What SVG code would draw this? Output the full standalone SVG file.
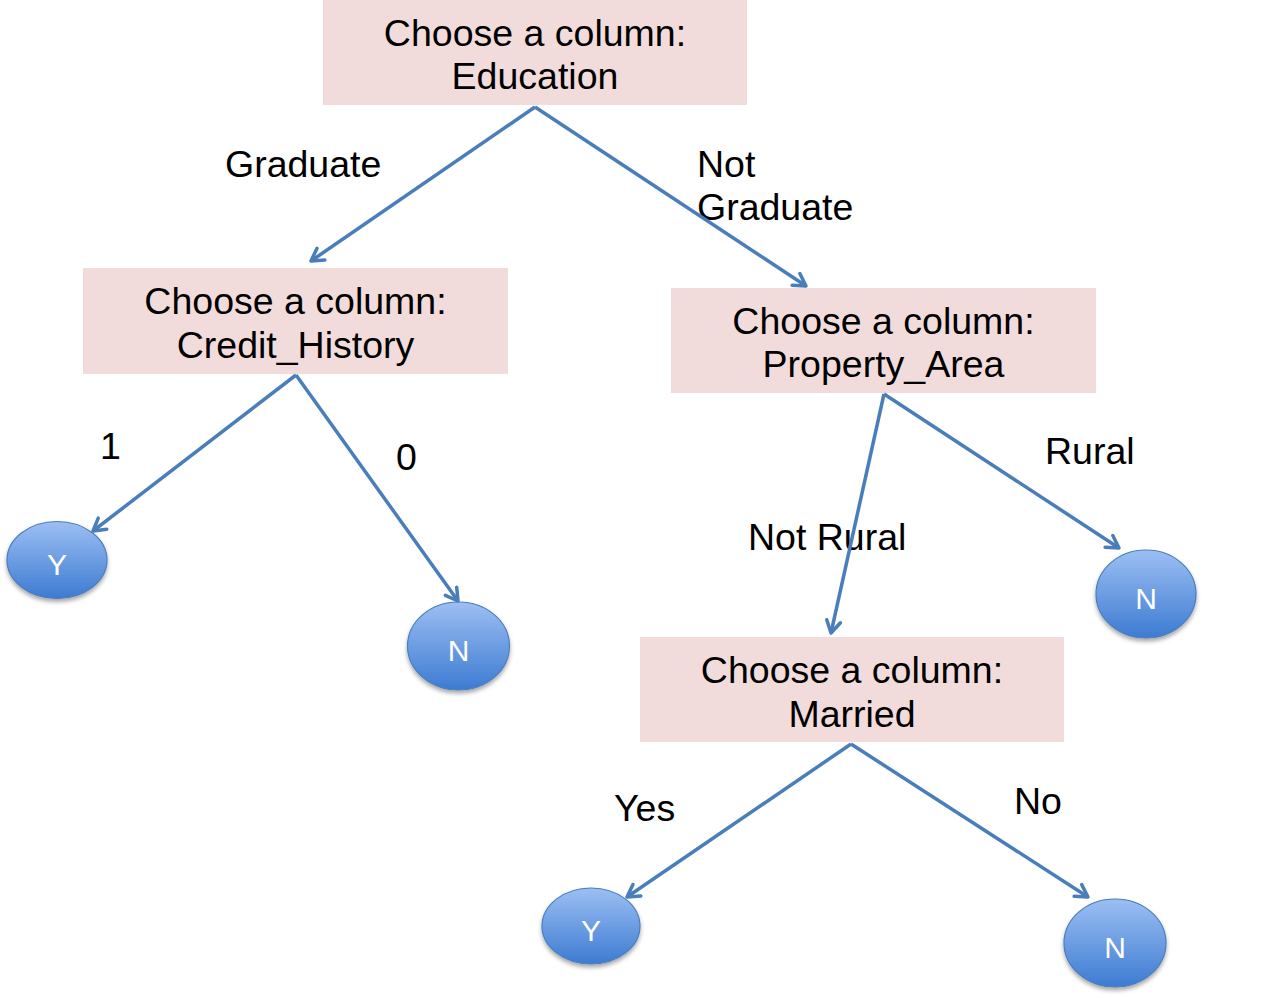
<svg xmlns="http://www.w3.org/2000/svg" width="1275" height="998" viewBox="0 0 1275 998">
<style>
.box{fill:#F2DCDB;}
.t{font-family:"Liberation Sans",Arial,sans-serif;font-size:37.5px;fill:#000;}
.c{text-anchor:middle;}
.leaf{fill:url(#g);stroke:#4A7EBB;stroke-width:1.2;filter:url(#sh);}
.lt{font-family:"Liberation Sans",Arial,sans-serif;font-size:30px;fill:#fff;text-anchor:middle;}
.e{stroke:#4A7EBB;stroke-width:3.5;fill:none;marker-end:url(#ah);}
</style>
<defs>
<linearGradient id="g" x1="0" y1="0" x2="0" y2="1">
<stop offset="0" stop-color="#9CBFF3"/>
<stop offset="1" stop-color="#3D7BD2"/>
</linearGradient>
<filter id="sh" x="-20%" y="-20%" width="140%" height="150%">
<feDropShadow dx="0" dy="3" stdDeviation="2" flood-color="#000" flood-opacity="0.35"/>
</filter>
<marker id="ah" markerUnits="userSpaceOnUse" viewBox="0 0 16 18" refX="14" refY="9" markerWidth="16" markerHeight="18" orient="auto">
<path d="M2,2 L14,9 L2,16" fill="none" stroke="#4A7EBB" stroke-width="3.5" stroke-linecap="round" stroke-linejoin="round"/>
</marker>
</defs>

<g id="n-education">
<rect class="box" x="323" y="0" width="424" height="105"/>
<text class="t c" x="535" y="46">Choose a column:</text>
<text class="t c" x="535" y="89">Education</text>
</g>
<g id="n-credit">
<rect class="box" x="83" y="268" width="425" height="106"/>
<text class="t c" x="295.5" y="314">Choose a column:</text>
<text class="t c" x="295.5" y="358">Credit_History</text>
</g>
<g id="n-property">
<rect class="box" x="671" y="288" width="425" height="105"/>
<text class="t c" x="883.5" y="334">Choose a column:</text>
<text class="t c" x="883.5" y="377">Property_Area</text>
</g>
<g id="n-married">
<rect class="box" x="640" y="637" width="424" height="105"/>
<text class="t c" x="852" y="683">Choose a column:</text>
<text class="t c" x="852" y="727">Married</text>
</g>

<g id="n-y1"><ellipse class="leaf" cx="57" cy="560" rx="50" ry="38.5"/><text class="lt" x="57" y="575">Y</text></g>
<g id="n-n1"><ellipse class="leaf" cx="458.5" cy="646" rx="51" ry="44"/><text class="lt" x="458.5" y="661">N</text></g>
<g id="n-n2"><ellipse class="leaf" cx="1146" cy="594" rx="50" ry="44"/><text class="lt" x="1146" y="609">N</text></g>
<g id="n-y2"><ellipse class="leaf" cx="591" cy="926" rx="49" ry="38"/><text class="lt" x="591" y="941">Y</text></g>
<g id="n-n3"><ellipse class="leaf" cx="1115" cy="943" rx="51" ry="44"/><text class="lt" x="1115" y="958">N</text></g>

<g id="labels">
<text class="t" x="225" y="177">Graduate</text>
<text class="t" x="697" y="177">Not</text>
<text class="t" x="697" y="220">Graduate</text>
<text class="t" x="100" y="459">1</text>
<text class="t" x="396" y="470">0</text>
<text class="t" x="1045" y="464">Rural</text>
<text class="t" x="748" y="550">Not Rural</text>
<text class="t" x="614" y="821">Yes</text>
<text class="t" x="1014" y="814">No</text>
</g>

<g id="connectors">
<line class="e" x1="535" y1="107" x2="311" y2="261"/>
<line class="e" x1="535" y1="107" x2="806" y2="286"/>
<line class="e" x1="296" y1="375" x2="93" y2="531"/>
<line class="e" x1="296" y1="375" x2="458" y2="601"/>
<line class="e" x1="884" y1="394" x2="1119" y2="548"/>
<line class="e" x1="884" y1="394" x2="831" y2="633"/>
<line class="e" x1="851" y1="744" x2="627" y2="897"/>
<line class="e" x1="851" y1="744" x2="1088" y2="897"/>
</g>
</svg>
